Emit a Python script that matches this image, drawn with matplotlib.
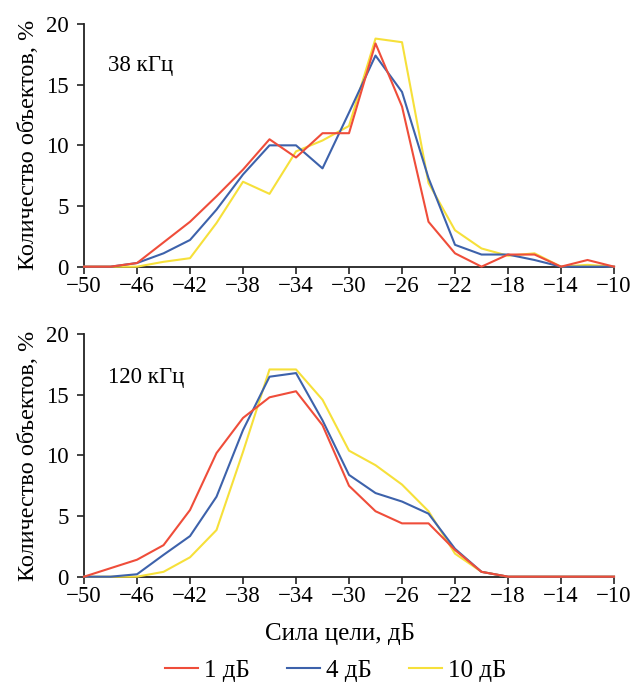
import numpy as np
import matplotlib
matplotlib.use('Agg')
import matplotlib.pyplot as plt

plt.rcParams['font.family'] = ['Liberation Serif', 'DejaVu Serif']

# target strength bins, dB
ts = [-50, -48, -46, -44, -42, -40, -38, -36, -34, -32, -30,
      -28, -26, -24, -22, -20, -18, -16, -14, -12, -10]

# 38 kHz, share of objects, %
f38_1db = [0, 0, 0.3, 2.0, 3.7, 5.8, 8.0, 10.5, 9.0, 11.0, 11.0,
           18.4, 13.2, 3.7, 1.1, 0, 1.0, 1.0, 0, 0.55, 0]
f38_4db = [0, 0, 0.3, 1.1, 2.2, 4.7, 7.6, 10.0, 10.0, 8.1, 12.7,
           17.4, 14.4, 7.3, 1.8, 1.0, 1.0, 0.55, 0, 0, 0]
f38_10db = [0, 0, 0, 0.4, 0.7, 3.6, 7.0, 6.0, 9.5, 10.4, 11.6,
            18.8, 18.5, 6.9, 3.0, 1.5, 0.9, 1.1, 0, 0.15, 0]

# 120 kHz
f120_1db = [0, 0.7, 1.4, 2.6, 5.5, 10.2, 13.1, 14.8, 15.3, 12.5, 7.5,
            5.4, 4.4, 4.4, 2.2, 0.4, 0, 0, 0, 0, 0]
f120_4db = [0, 0, 0.2, 1.8, 3.35, 6.6, 12.1, 16.5, 16.8, 12.9, 8.4,
            6.9, 6.2, 5.2, 2.3, 0.4, 0, 0, 0, 0, 0]
f120_10db = [0, 0, 0, 0.4, 1.6, 3.85, 10.3, 17.1, 17.1, 14.6, 10.4,
             9.2, 7.6, 5.4, 1.9, 0.4, 0, 0, 0, 0, 0]

labels = ['1 дБ', '4 дБ', '10 дБ']
colors = ['#ef4d3a', '#3d62ab', '#f6e03a']
xticks = list(range(-50, -9, 4))

fig = plt.figure(figsize=(6.37, 6.88), dpi=100)
ax1 = fig.add_axes([0.1319, 0.6124, 0.832, 0.3527])
ax2 = fig.add_axes([0.1319, 0.1618, 0.832, 0.3523])

panels = [(ax1, [f38_1db, f38_4db, f38_10db], '38 кГц', 0.83),
          (ax2, [f120_1db, f120_4db, f120_10db], '120 кГц', 0.82)]

for ax, series, name, ty in panels:
    for i, (vals, lab, c) in enumerate(zip(series, labels, colors)):
        ax.plot(ts, vals, color=c, lw=1.5, label=lab, zorder=5 - i,
                clip_on=False)
    ax.set_xlim(-50, -10)
    ax.set_ylim(0, 20)
    ax.set_xticks(xticks)
    ax.set_yticks([0, 5, 10, 15, 20])
    for s in ['top', 'right']:
        ax.spines[s].set_visible(False)
    for s in ['left', 'bottom']:
        ax.spines[s].set_linewidth(1.3)
        ax.spines[s].set_color('#222222')
    ax.tick_params(labelsize=16.5, length=5, width=1.2, color='#222222')
    ax.tick_params(axis='y', pad=6)
    ax.tick_params(axis='x', pad=2)
    ax.set_ylabel('Количество объектов, %', fontsize=17.5)
    ax.yaxis.set_label_coords(-0.085, 0.5)
    ax.text(0.045, ty, name, transform=ax.transAxes, fontsize=16.5,
            va='center', ha='left')

ax2.set_xlabel('Сила цели, дБ', fontsize=18)
ax2.xaxis.set_label_coords(0.483, -0.19)

h, l = ax1.get_legend_handles_labels()
fig.legend(h, l, loc='center', bbox_to_anchor=(0.527, 0.025), ncol=3,
           frameon=False, fontsize=18, handlelength=1.3, handletextpad=0.25,
           columnspacing=1.5)

fig.savefig('out.png', dpi=100)
